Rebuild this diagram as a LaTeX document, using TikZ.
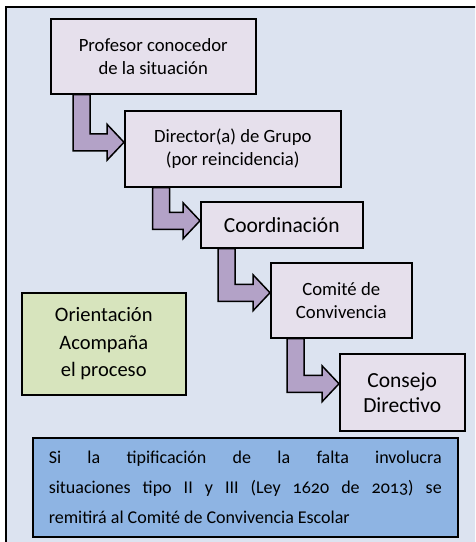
\documentclass[tikz,border=0pt]{standalone}
\usepackage{fontspec}
\setmainfont{Carlito}[Numbers=OldStyle]
\usetikzlibrary{calc}

\definecolor{panel_bg}{HTML}{DCE3F0}
\definecolor{step_fill}{HTML}{E6E0EC}
\definecolor{arrow_fill}{HTML}{B3A2C7}
\definecolor{guide_fill}{HTML}{D7E4BD}
\definecolor{note_fill}{HTML}{8EB4E3}

% bent arrow: from node, to node, shaft offset from left side, tip shift up
\newcommand{\bentarrow}[4]{%
  \coordinate (s) at ($(#1.south west)+(#3,0)$);
  \coordinate (t) at ($(#2.west)+(0,-#4)$);
  \draw[arrow_style] ($(s)+(-8.5,0)$) -- ($(s|-t)+(-8.5,8.5)$)
    -- ($(t)+(-17,8.5)$) -- ($(t)+(-17,18)$) -- (t)
    -- ($(t)+(-17,-18)$) -- ($(t)+(-17,-8.5)$)
    -- ($(s|-t)+(8.5,-8.5)$) -- ($(s)+(8.5,0)$) -- cycle;
}

\begin{document}
\begin{tikzpicture}[x=1pt,y=-1pt]
\tikzstyle{step_style} = [draw=black, line width=1.5pt, fill=step_fill, anchor=north west, align=center, inner sep=0pt]
\tikzstyle{arrow_style} = [draw=black, line width=1.5pt, fill=arrow_fill, line join=miter]
\tikzstyle{guide_style} = [draw=black, line width=1.5pt, fill=guide_fill, anchor=north west, align=center, inner sep=0pt]
\tikzstyle{note_style} = [draw=black, line width=1.5pt, fill=note_fill, anchor=north west, inner sep=0pt]
    \clip (0,0) rectangle (475,542);
    \draw[line width=1.5pt, fill=panel_bg] (6,7) rectangle (490,560);

    \node[step_style, minimum width=205, minimum height=75, font=\fontsize{18.7}{23}\selectfont] (s1) at (50,18) {Profesor conocedor\\de la situación};
    \node[step_style, minimum width=216, minimum height=76, font=\fontsize{18.7}{23}\selectfont] (s2) at (124,110) {Director(a) de Grupo\\(por reincidencia)};
    \node[step_style, minimum width=162, minimum height=46, font=\fontsize{21.5}{24}\selectfont] (s3) at (200,201) {Coordinación};
    \node[step_style, minimum width=141, minimum height=75, font=\fontsize{18.7}{23}\selectfont] (s4) at (270,262) {Comité de\\Convivencia};
    \node[step_style, minimum width=125, minimum height=77, font=\fontsize{21.5}{25}\selectfont] (s5) at (339,353) {Consejo\\Directivo};

    \bentarrow{s1}{s2}{31.5}{6.5}
    \bentarrow{s2}{s3}{37}{4}
    \bentarrow{s3}{s4}{26.5}{7.5}
    \bentarrow{s4}{s5}{25.5}{8.5}

    \node[guide_style, minimum width=164, minimum height=102, font=\fontsize{20.5}{27.5}\selectfont] (guide) at (21,292) {Orientación\\Acompaña\\el proceso};

    \node[note_style, minimum width=425, minimum height=99] (note) at (32,437) {%
      \parbox{393pt}{\fontsize{18}{30}\selectfont Si la tipificación de la falta involucra\linebreak situaciones tipo II y III (Ley 1620 de 2013) se\linebreak remitirá al Comité de Convivencia Escolar}};
\end{tikzpicture}
\end{document}
